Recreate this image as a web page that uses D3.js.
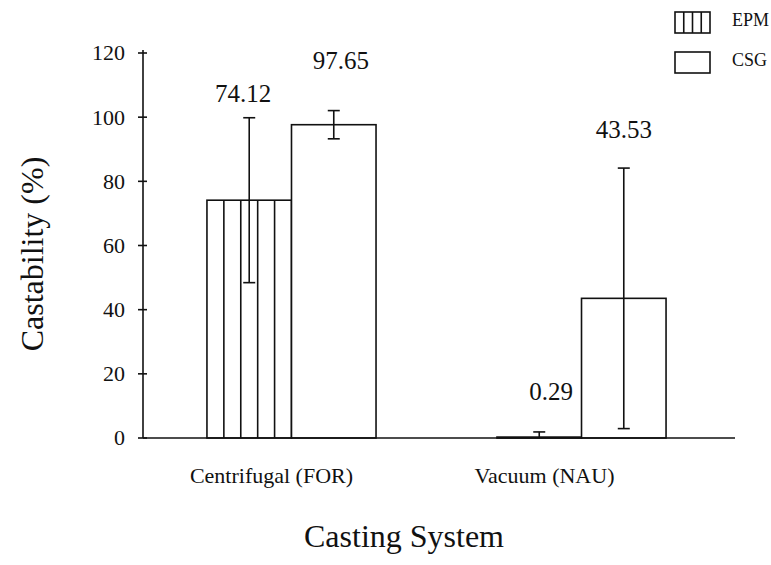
<!DOCTYPE html>
<html>
<head>
<meta charset="utf-8">
<script src="https://cdnjs.cloudflare.com/ajax/libs/d3/7.8.5/d3.min.js"></script>
<style>
  html, body { margin: 0; padding: 0; background: #fff; }
  text { font-family: "Liberation Serif", "DejaVu Serif", serif; }
</style>
</head>
<body>
<svg id="chart" width="771" height="565"></svg>
<script>
// Data
const systems = ["Centrifugal (FOR)", "Vacuum (NAU)"];
const materials = ["EPM", "CSG"];
const epmMean = [74.12, 0.29];
const epmSd = [25.7, 1.6];
const csgMean = [97.65, 43.53];
const csgSd = [4.4, 40.6];
const yTicks = [0, 20, 40, 60, 80, 100, 120];

const svg = d3.select("#chart");
const FONT = "Liberation Serif";

// layout
const plotLeft = 143, plotBottom = 438, plotTop = 53;

const rows = [];
systems.forEach((s, i) => {
  rows.push({ system: s, material: "EPM", mean: epmMean[i], sd: epmSd[i] });
  rows.push({ system: s, material: "CSG", mean: csgMean[i], sd: csgSd[i] });
});

const x0 = d3.scaleBand().domain(systems).range([141, 732])
  .paddingInner(0.417).paddingOuter(0.2274);
const x1 = d3.scaleBand().domain(materials).range([0, x0.bandwidth()]);
const y = d3.scaleLinear().domain([0, 120]).range([plotBottom, plotTop]);

// per-label nudges to sit like the original
const valueNudge = {
  "Centrifugal (FOR)|EPM": [-6, -16],
  "Centrifugal (FOR)|CSG": [7, -42],
  "Vacuum (NAU)|EPM": [12, -32],
  "Vacuum (NAU)|CSG": [0, -30]
};
const catNudge = [-20, -37];

// bars
const bars = svg.append("g");
rows.forEach(d => {
  const bx = x0(d.system) + x1(d.material);
  const bw = x1.bandwidth();
  const by = y(d.mean);
  const bh = plotBottom - by;
  const g = bars.append("g");
  g.append("rect")
    .attr("x", bx).attr("y", by)
    .attr("width", bw).attr("height", Math.max(bh, 1))
    .attr("fill", "#fff")
    .attr("stroke", "#111")
    .attr("stroke-width", 1.6);
  if (d.material === "EPM" && bh > 4) {
    const n = 5;
    d3.range(1, n).forEach(k => {
      g.append("line")
        .attr("x1", bx + bw * k / n).attr("x2", bx + bw * k / n)
        .attr("y1", by).attr("y2", plotBottom)
        .attr("stroke", "#111").attr("stroke-width", 1.6);
    });
  }
});

// error bars
const err = svg.append("g").attr("stroke", "#111").attr("stroke-width", 1.6);
rows.forEach(d => {
  const cx = x0(d.system) + x1(d.material) + x1.bandwidth() / 2;
  const y1 = y(d.mean + d.sd), y2 = y(Math.max(d.mean - d.sd, 0));
  err.append("line").attr("x1", cx).attr("x2", cx).attr("y1", y1).attr("y2", y2);
  err.append("line").attr("x1", cx - 6).attr("x2", cx + 6).attr("y1", y1).attr("y2", y1);
  if (d.mean - d.sd > 0)
    err.append("line").attr("x1", cx - 6).attr("x2", cx + 6).attr("y1", y2).attr("y2", y2);
});

// value labels
rows.forEach(d => {
  const nudge = valueNudge[d.system + "|" + d.material];
  const cx = x0(d.system) + x1(d.material) + x1.bandwidth() / 2;
  svg.append("text")
    .attr("x", cx + nudge[0])
    .attr("y", y(d.mean + d.sd) + nudge[1])
    .attr("text-anchor", "middle")
    .attr("font-family", FONT)
    .attr("font-size", 25)
    .attr("fill", "#111")
    .text(d.mean.toFixed(2));
});

// y axis
const ya = svg.append("g").attr("stroke", "#111").attr("stroke-width", 1.6);
ya.append("line").attr("x1", plotLeft).attr("x2", plotLeft).attr("y1", 50).attr("y2", plotBottom);
yTicks.forEach(t => {
  ya.append("line").attr("x1", plotLeft - 5).attr("x2", plotLeft + 4).attr("y1", y(t)).attr("y2", y(t));
  svg.append("text")
    .attr("x", plotLeft - 18).attr("y", y(t))
    .attr("dy", "0.34em")
    .attr("text-anchor", "end")
    .attr("font-family", FONT)
    .attr("font-size", 22)
    .attr("fill", "#111")
    .text(t);
});

// x axis
svg.append("line")
  .attr("x1", plotLeft).attr("x2", 735).attr("y1", plotBottom).attr("y2", plotBottom)
  .attr("stroke", "#111").attr("stroke-width", 1.6);

systems.forEach((s, i) => {
  svg.append("text")
    .attr("x", x0(s) + x0.bandwidth() / 2 + catNudge[i])
    .attr("y", 483)
    .attr("text-anchor", "middle")
    .attr("font-family", FONT)
    .attr("font-size", 22)
    .attr("fill", "#111")
    .text(s);
});

// axis titles
svg.append("text")
  .attr("x", 404).attr("y", 547)
  .attr("text-anchor", "middle")
  .attr("font-family", FONT)
  .attr("font-size", 32)
  .attr("fill", "#111")
  .text("Casting System");

svg.append("text")
  .attr("transform", "translate(43,254) rotate(-90)")
  .attr("text-anchor", "middle")
  .attr("font-family", FONT)
  .attr("font-size", 32)
  .attr("fill", "#111")
  .text("Castability (%)");

// legend
const legend = svg.append("g");
materials.forEach((m, i) => {
  const ly = 12 + i * 40;
  legend.append("rect")
    .attr("x", 675).attr("y", ly).attr("width", 35).attr("height", 21)
    .attr("fill", "#fff").attr("stroke", "#111").attr("stroke-width", 1.6);
  if (m === "EPM") {
    d3.range(1, 4).forEach(k => {
      legend.append("line")
        .attr("x1", 675 + 35 * k / 4).attr("x2", 675 + 35 * k / 4)
        .attr("y1", ly).attr("y2", ly + 21)
        .attr("stroke", "#111").attr("stroke-width", 1.6);
    });
  }
  legend.append("text")
    .attr("x", 732).attr("y", ly + 14)
    .attr("font-family", FONT)
    .attr("font-size", 18)
    .attr("fill", "#111")
    .text(m);
});
</script>
</body>
</html>
